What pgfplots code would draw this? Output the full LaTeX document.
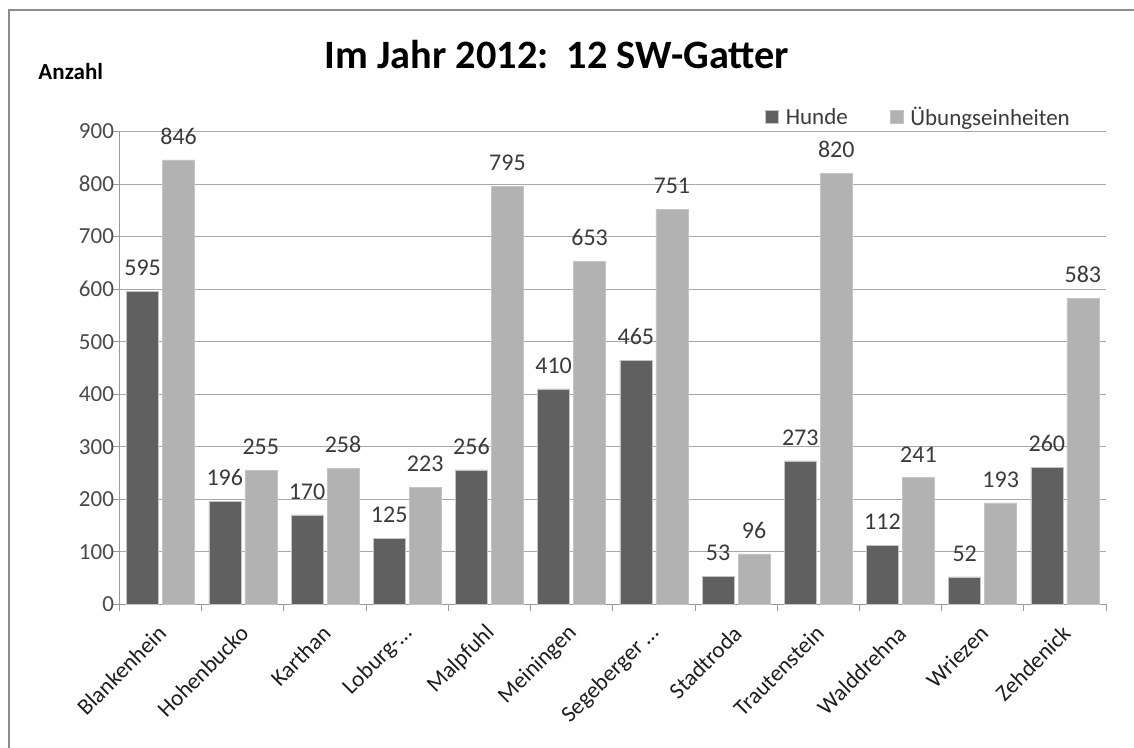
\documentclass[border=0pt]{standalone}
\usepackage{fontspec}
\setmainfont{Carlito}
\usepackage{pgfplots}
\pgfplotsset{compat=1.18}
\definecolor{darkbar}{HTML}{606060}
\definecolor{lightbar}{HTML}{B2B2B2}
\definecolor{barborder}{HTML}{C4C4C4}
\definecolor{gridc}{HTML}{A8A8A8}
\definecolor{axisc}{HTML}{9A9A9A}
\definecolor{ticktxt}{HTML}{4A4A4A}
\definecolor{cattxt}{HTML}{1E1E1E}
\definecolor{datatxt}{HTML}{3A3A3A}
\definecolor{framec}{HTML}{8C8C8C}
\newcommand\lbl{\fontsize{23}{27}\selectfont}
\begin{document}
\begin{tikzpicture}[x=1pt,y=1pt]
% outer frame (extends beyond the cropped picture on right and bottom)
\draw[framec, line width=1.2pt] (-110.5,-160) rectangle (1030,594.3);
\begin{axis}[
  at={(0,0)}, anchor=south west,
  scale only axis,
  width=986.5pt, height=472.8pt,
  ybar=4pt, bar width=32pt,
  xmin=-0.5, xmax=11.5,
  ymin=0, ymax=900,
  ytick={0,100,...,900},
  xtick={0,...,11},
  xticklabels={Blankenhein,Hohenbucko,Karthan,Loburg-…,Malpfuhl,Meiningen,Segeberger …,Stadtroda,Trautenstein,Walddrehna,Wriezen,Zehdenick},
  minor xtick={-0.5,0.5,...,11.5},
  major x tick style={draw=none},
  minor x tick style={axisc, line width=0.9pt},
  y tick style={axisc, line width=0.9pt},
  tick align=outside,
  major tick length=7pt, minor tick length=7pt,
  axis lines*=left,
  axis line style={axisc, line width=0.9pt, -},
  ymajorgrids,
  grid style={gridc, line width=0.9pt},
  /pgf/number format/assume math mode=true,
  y tick label style={font=\lbl, text=ticktxt, xshift=5pt},
  x tick label style={font=\lbl, text=cattxt, xshift=4pt, yshift=-16pt, rotate=45, anchor=east},
  nodes near coords,
  every node near coord/.append style={font=\fontsize{24}{28}\selectfont, text=datatxt, yshift=12pt},
  legend style={draw=none, fill=none, font=\lbl, text=datatxt,
    legend columns=2, at={(rel axis cs:0.9686,1.0307)}, anchor=east,
    /tikz/every odd column/.append style={column sep=5pt},
    /tikz/every even column/.append style={column sep=40pt}},
  legend image code/.code={\fill[#1] (0pt,-6.5pt) rectangle (13pt,6.5pt);},
  clip=false,
]
\addplot[fill=darkbar, draw=barborder, line width=0.6pt] coordinates {
 (0,595) (1,196) (2,170) (3,125) (4,256) (5,410) (6,465) (7,53) (8,273) (9,112) (10,52) (11,260)};
\addplot[fill=lightbar, draw=barborder, line width=0.6pt] coordinates {
 (0,846) (1,255) (2,258) (3,223) (4,795) (5,653) (6,751) (7,96) (8,820) (9,241) (10,193) (11,583)};
\legend{Hunde, Übungseinheiten}
\end{axis}
\node[anchor=base, font=\fontsize{40.3}{46}\selectfont\bfseries] at (437.5,536) {Im Jahr 2012:\ \ 12 SW-Gatter};
\node[anchor=base west, inner sep=0pt, font=\fontsize{23}{27}\selectfont\bfseries] at (-81.2,524.3) {Anzahl};
\pgfresetboundingbox
\path[use as bounding box] (-119.5,-142.7) rectangle (1014.5,604.3);
\end{tikzpicture}
\end{document}
